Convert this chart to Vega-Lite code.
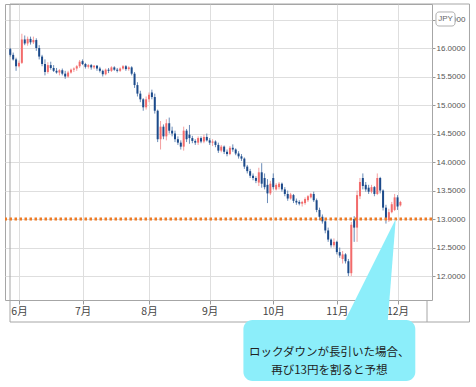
{
  "$schema": "https://vega.github.io/schema/vega-lite/v6.json",
  "width": 427,
  "height": 296,
  "padding": {"left": 3, "top": 3, "right": 2, "bottom": 6},
  "background": "white",
  "config": {
    "view": {"stroke": "#a6a6a6", "strokeWidth": 1},
    "axis": {"gridColor": "#dedede", "gridWidth": 1, "tickColor": "#9a9a9a", "domain": false, "labelColor": "#555555"}
  },
  "datasets": {
    "candles": [
      {"t": 0, "date": "2020-05-27", "o": 15.98, "h": 16.0, "l": 15.85, "c": 15.88},
      {"t": 1, "date": "2020-05-28", "o": 15.88, "h": 15.92, "l": 15.78, "c": 15.8},
      {"t": 2, "date": "2020-05-29", "o": 15.8, "h": 15.83, "l": 15.6, "c": 15.68},
      {"t": 3, "date": "2020-06-01", "o": 15.68, "h": 15.78, "l": 15.66, "c": 15.74},
      {"t": 4, "date": "2020-06-02", "o": 15.74, "h": 16.25, "l": 15.72, "c": 16.15},
      {"t": 5, "date": "2020-06-03", "o": 16.15, "h": 16.22, "l": 16.05, "c": 16.08},
      {"t": 6, "date": "2020-06-04", "o": 16.08, "h": 16.2, "l": 16.04, "c": 16.16},
      {"t": 7, "date": "2020-06-05", "o": 16.16, "h": 16.2, "l": 16.06, "c": 16.1},
      {"t": 8, "date": "2020-06-08", "o": 16.1, "h": 16.2, "l": 16.07, "c": 16.14},
      {"t": 9, "date": "2020-06-09", "o": 16.14, "h": 16.17, "l": 15.95, "c": 16.0},
      {"t": 10, "date": "2020-06-10", "o": 16.0, "h": 16.05, "l": 15.8, "c": 15.85},
      {"t": 11, "date": "2020-06-11", "o": 15.85, "h": 15.88, "l": 15.68, "c": 15.72},
      {"t": 12, "date": "2020-06-12", "o": 15.72, "h": 15.8, "l": 15.52, "c": 15.58},
      {"t": 13, "date": "2020-06-15", "o": 15.58, "h": 15.75, "l": 15.55, "c": 15.7},
      {"t": 14, "date": "2020-06-16", "o": 15.7, "h": 15.76, "l": 15.62, "c": 15.65},
      {"t": 15, "date": "2020-06-17", "o": 15.65, "h": 15.7, "l": 15.58, "c": 15.6},
      {"t": 16, "date": "2020-06-18", "o": 15.6, "h": 15.65, "l": 15.55, "c": 15.57},
      {"t": 17, "date": "2020-06-19", "o": 15.57, "h": 15.63, "l": 15.52, "c": 15.61},
      {"t": 18, "date": "2020-06-22", "o": 15.61, "h": 15.64, "l": 15.52, "c": 15.55},
      {"t": 19, "date": "2020-06-23", "o": 15.55, "h": 15.6, "l": 15.46, "c": 15.5},
      {"t": 20, "date": "2020-06-24", "o": 15.5, "h": 15.6, "l": 15.48, "c": 15.57},
      {"t": 21, "date": "2020-06-25", "o": 15.57, "h": 15.64, "l": 15.55, "c": 15.62},
      {"t": 22, "date": "2020-06-26", "o": 15.62, "h": 15.66, "l": 15.58, "c": 15.64},
      {"t": 23, "date": "2020-06-29", "o": 15.64, "h": 15.7, "l": 15.6, "c": 15.68},
      {"t": 24, "date": "2020-06-30", "o": 15.68, "h": 15.79, "l": 15.65, "c": 15.76},
      {"t": 25, "date": "2020-07-01", "o": 15.77, "h": 15.8, "l": 15.7, "c": 15.72},
      {"t": 26, "date": "2020-07-02", "o": 15.72, "h": 15.74, "l": 15.64, "c": 15.67},
      {"t": 27, "date": "2020-07-03", "o": 15.67, "h": 15.72, "l": 15.64, "c": 15.7},
      {"t": 28, "date": "2020-07-06", "o": 15.7, "h": 15.72, "l": 15.62, "c": 15.66},
      {"t": 29, "date": "2020-07-07", "o": 15.66, "h": 15.7, "l": 15.63, "c": 15.69},
      {"t": 30, "date": "2020-07-08", "o": 15.69, "h": 15.7, "l": 15.6, "c": 15.64},
      {"t": 31, "date": "2020-07-09", "o": 15.64, "h": 15.67, "l": 15.57, "c": 15.6},
      {"t": 32, "date": "2020-07-10", "o": 15.6, "h": 15.62, "l": 15.5, "c": 15.54},
      {"t": 33, "date": "2020-07-13", "o": 15.54, "h": 15.64, "l": 15.52, "c": 15.62},
      {"t": 34, "date": "2020-07-14", "o": 15.62, "h": 15.65, "l": 15.56, "c": 15.6},
      {"t": 35, "date": "2020-07-15", "o": 15.6, "h": 15.68, "l": 15.58, "c": 15.66},
      {"t": 36, "date": "2020-07-16", "o": 15.66, "h": 15.68, "l": 15.6, "c": 15.62},
      {"t": 37, "date": "2020-07-17", "o": 15.62, "h": 15.65, "l": 15.57, "c": 15.6},
      {"t": 38, "date": "2020-07-20", "o": 15.6, "h": 15.66, "l": 15.58, "c": 15.64},
      {"t": 39, "date": "2020-07-21", "o": 15.64, "h": 15.7, "l": 15.62, "c": 15.68},
      {"t": 40, "date": "2020-07-22", "o": 15.68, "h": 15.7, "l": 15.6, "c": 15.63},
      {"t": 41, "date": "2020-07-23", "o": 15.63, "h": 15.68, "l": 15.6, "c": 15.66},
      {"t": 42, "date": "2020-07-24", "o": 15.66, "h": 15.68, "l": 15.52, "c": 15.55},
      {"t": 43, "date": "2020-07-27", "o": 15.55, "h": 15.58, "l": 15.3, "c": 15.35},
      {"t": 44, "date": "2020-07-28", "o": 15.35, "h": 15.4, "l": 15.15, "c": 15.2},
      {"t": 45, "date": "2020-07-29", "o": 15.2, "h": 15.25, "l": 15.05, "c": 15.1},
      {"t": 46, "date": "2020-07-30", "o": 15.1, "h": 15.12, "l": 14.9, "c": 14.96},
      {"t": 47, "date": "2020-07-31", "o": 14.96, "h": 15.15, "l": 14.92, "c": 15.1},
      {"t": 48, "date": "2020-08-03", "o": 15.1, "h": 15.22, "l": 15.05, "c": 15.18},
      {"t": 49, "date": "2020-08-04", "o": 15.22, "h": 15.27, "l": 15.1, "c": 15.14},
      {"t": 50, "date": "2020-08-05", "o": 15.14, "h": 15.2, "l": 14.85, "c": 14.9},
      {"t": 51, "date": "2020-08-06", "o": 14.9, "h": 14.92, "l": 14.35, "c": 14.4},
      {"t": 52, "date": "2020-08-07", "o": 14.4, "h": 14.72, "l": 14.22, "c": 14.62},
      {"t": 53, "date": "2020-08-10", "o": 14.62, "h": 14.66, "l": 14.4, "c": 14.45},
      {"t": 54, "date": "2020-08-11", "o": 14.45, "h": 14.75, "l": 14.38, "c": 14.68},
      {"t": 55, "date": "2020-08-12", "o": 14.68, "h": 14.78, "l": 14.5, "c": 14.55},
      {"t": 56, "date": "2020-08-13", "o": 14.55, "h": 14.62, "l": 14.45, "c": 14.5},
      {"t": 57, "date": "2020-08-14", "o": 14.5, "h": 14.55, "l": 14.35, "c": 14.4},
      {"t": 58, "date": "2020-08-17", "o": 14.4, "h": 14.45, "l": 14.3, "c": 14.34},
      {"t": 59, "date": "2020-08-18", "o": 14.34, "h": 14.38, "l": 14.22, "c": 14.27},
      {"t": 60, "date": "2020-08-19", "o": 14.27, "h": 14.62, "l": 14.2, "c": 14.55},
      {"t": 61, "date": "2020-08-20", "o": 14.55, "h": 14.58, "l": 14.35, "c": 14.4},
      {"t": 62, "date": "2020-08-21", "o": 14.48, "h": 14.65, "l": 14.32, "c": 14.42},
      {"t": 63, "date": "2020-08-24", "o": 14.42, "h": 14.46, "l": 14.33, "c": 14.37},
      {"t": 64, "date": "2020-08-25", "o": 14.37, "h": 14.4, "l": 14.3, "c": 14.34},
      {"t": 65, "date": "2020-08-26", "o": 14.34, "h": 14.45, "l": 14.3, "c": 14.42},
      {"t": 66, "date": "2020-08-27", "o": 14.42, "h": 14.45, "l": 14.33, "c": 14.36},
      {"t": 67, "date": "2020-08-28", "o": 14.36, "h": 14.48, "l": 14.33, "c": 14.44},
      {"t": 68, "date": "2020-08-31", "o": 14.44, "h": 14.5, "l": 14.36, "c": 14.38},
      {"t": 69, "date": "2020-09-01", "o": 14.38, "h": 14.42, "l": 14.3, "c": 14.34},
      {"t": 70, "date": "2020-09-02", "o": 14.34, "h": 14.4, "l": 14.28, "c": 14.36},
      {"t": 71, "date": "2020-09-03", "o": 14.36, "h": 14.38, "l": 14.26, "c": 14.3},
      {"t": 72, "date": "2020-09-04", "o": 14.3, "h": 14.34, "l": 14.16, "c": 14.2},
      {"t": 73, "date": "2020-09-07", "o": 14.2, "h": 14.3, "l": 14.17, "c": 14.27},
      {"t": 74, "date": "2020-09-08", "o": 14.27, "h": 14.29, "l": 14.14, "c": 14.18},
      {"t": 75, "date": "2020-09-09", "o": 14.18, "h": 14.22, "l": 14.1, "c": 14.14},
      {"t": 76, "date": "2020-09-10", "o": 14.14, "h": 14.28, "l": 14.12, "c": 14.25},
      {"t": 77, "date": "2020-09-11", "o": 14.25, "h": 14.31, "l": 14.18, "c": 14.22},
      {"t": 78, "date": "2020-09-14", "o": 14.22, "h": 14.24, "l": 14.12, "c": 14.15},
      {"t": 79, "date": "2020-09-15", "o": 14.15, "h": 14.19, "l": 14.06, "c": 14.1},
      {"t": 80, "date": "2020-09-16", "o": 14.1, "h": 14.14, "l": 14.02, "c": 14.06},
      {"t": 81, "date": "2020-09-17", "o": 14.06, "h": 14.08, "l": 13.88, "c": 13.92},
      {"t": 82, "date": "2020-09-18", "o": 13.92, "h": 13.95, "l": 13.8, "c": 13.84},
      {"t": 83, "date": "2020-09-21", "o": 13.84, "h": 13.88, "l": 13.72, "c": 13.76},
      {"t": 84, "date": "2020-09-22", "o": 13.76, "h": 13.8, "l": 13.68, "c": 13.72},
      {"t": 85, "date": "2020-09-23", "o": 13.72, "h": 13.75, "l": 13.63, "c": 13.67},
      {"t": 86, "date": "2020-09-24", "o": 13.64, "h": 13.9, "l": 13.58, "c": 13.82},
      {"t": 87, "date": "2020-09-25", "o": 13.82, "h": 13.98, "l": 13.55, "c": 13.62},
      {"t": 88, "date": "2020-09-28", "o": 13.72, "h": 13.8, "l": 13.52, "c": 13.56},
      {"t": 89, "date": "2020-09-29", "o": 13.6, "h": 13.7, "l": 13.28, "c": 13.45},
      {"t": 90, "date": "2020-09-30", "o": 13.45, "h": 13.67, "l": 13.42, "c": 13.62},
      {"t": 91, "date": "2020-10-01", "o": 13.72, "h": 13.8, "l": 13.52, "c": 13.56},
      {"t": 92, "date": "2020-10-02", "o": 13.52, "h": 13.63, "l": 13.5, "c": 13.6},
      {"t": 93, "date": "2020-10-05", "o": 13.56, "h": 13.65, "l": 13.52, "c": 13.62},
      {"t": 94, "date": "2020-10-06", "o": 13.62, "h": 13.64, "l": 13.48, "c": 13.52},
      {"t": 95, "date": "2020-10-07", "o": 13.52, "h": 13.56, "l": 13.4, "c": 13.44},
      {"t": 96, "date": "2020-10-08", "o": 13.44, "h": 13.5, "l": 13.32, "c": 13.36},
      {"t": 97, "date": "2020-10-09", "o": 13.36, "h": 13.46, "l": 13.34, "c": 13.43},
      {"t": 98, "date": "2020-10-12", "o": 13.42, "h": 13.44, "l": 13.28, "c": 13.32},
      {"t": 99, "date": "2020-10-13", "o": 13.32, "h": 13.36, "l": 13.25, "c": 13.29},
      {"t": 100, "date": "2020-10-14", "o": 13.3, "h": 13.33, "l": 13.24, "c": 13.27},
      {"t": 101, "date": "2020-10-15", "o": 13.27, "h": 13.32, "l": 13.22, "c": 13.3},
      {"t": 102, "date": "2020-10-16", "o": 13.28, "h": 13.38, "l": 13.25, "c": 13.35},
      {"t": 103, "date": "2020-10-19", "o": 13.33, "h": 13.42, "l": 13.3, "c": 13.4},
      {"t": 104, "date": "2020-10-20", "o": 13.38, "h": 13.46, "l": 13.36, "c": 13.44},
      {"t": 105, "date": "2020-10-21", "o": 13.44, "h": 13.48, "l": 13.3, "c": 13.33},
      {"t": 106, "date": "2020-10-22", "o": 13.33, "h": 13.36, "l": 13.12, "c": 13.16},
      {"t": 107, "date": "2020-10-23", "o": 13.16, "h": 13.2, "l": 12.98, "c": 13.04},
      {"t": 108, "date": "2020-10-26", "o": 13.04, "h": 13.08, "l": 12.92, "c": 12.96},
      {"t": 109, "date": "2020-10-27", "o": 12.96, "h": 12.98, "l": 12.75, "c": 12.8},
      {"t": 110, "date": "2020-10-28", "o": 12.8, "h": 12.85, "l": 12.6, "c": 12.64},
      {"t": 111, "date": "2020-10-29", "o": 12.64, "h": 12.66, "l": 12.5, "c": 12.54},
      {"t": 112, "date": "2020-10-30", "o": 12.54, "h": 12.66, "l": 12.5, "c": 12.6},
      {"t": 113, "date": "2020-11-02", "o": 12.6, "h": 12.62, "l": 12.38, "c": 12.42},
      {"t": 114, "date": "2020-11-03", "o": 12.42, "h": 12.5, "l": 12.32, "c": 12.36},
      {"t": 115, "date": "2020-11-04", "o": 12.3, "h": 12.44, "l": 12.22, "c": 12.38},
      {"t": 116, "date": "2020-11-05", "o": 12.38, "h": 12.4, "l": 12.22, "c": 12.26},
      {"t": 117, "date": "2020-11-06", "o": 12.26, "h": 12.3, "l": 12.0, "c": 12.05},
      {"t": 118, "date": "2020-11-09", "o": 12.05, "h": 12.95, "l": 12.0, "c": 12.9},
      {"t": 119, "date": "2020-11-10", "o": 13.0, "h": 13.05, "l": 12.6, "c": 12.85},
      {"t": 120, "date": "2020-11-11", "o": 12.85, "h": 13.5, "l": 12.6, "c": 13.42},
      {"t": 121, "date": "2020-11-12", "o": 13.4, "h": 13.72, "l": 13.35, "c": 13.65},
      {"t": 122, "date": "2020-11-13", "o": 13.72, "h": 13.8, "l": 13.52, "c": 13.58},
      {"t": 123, "date": "2020-11-16", "o": 13.6, "h": 13.65, "l": 13.48, "c": 13.52},
      {"t": 124, "date": "2020-11-17", "o": 13.55, "h": 13.6, "l": 13.44, "c": 13.48},
      {"t": 125, "date": "2020-11-18", "o": 13.48, "h": 13.6, "l": 13.45, "c": 13.56},
      {"t": 126, "date": "2020-11-19", "o": 13.56, "h": 13.58, "l": 13.4, "c": 13.44},
      {"t": 127, "date": "2020-11-20", "o": 13.44, "h": 13.8, "l": 13.42, "c": 13.72},
      {"t": 128, "date": "2020-11-23", "o": 13.72, "h": 13.74, "l": 13.45, "c": 13.5},
      {"t": 129, "date": "2020-11-24", "o": 13.5, "h": 13.52, "l": 13.15, "c": 13.2},
      {"t": 130, "date": "2020-11-25", "o": 13.2, "h": 13.25, "l": 12.92, "c": 13.0},
      {"t": 131, "date": "2020-11-26", "o": 12.98, "h": 13.18, "l": 12.95, "c": 13.12},
      {"t": 132, "date": "2020-11-27", "o": 13.12, "h": 13.3, "l": 13.1, "c": 13.26},
      {"t": 133, "date": "2020-11-30", "o": 13.16, "h": 13.44, "l": 13.14, "c": 13.38},
      {"t": 134, "date": "2020-12-01", "o": 13.38, "h": 13.42, "l": 13.16, "c": 13.22},
      {"t": 135, "date": "2020-12-02", "o": 13.24, "h": 13.32, "l": 13.22, "c": 13.3}
    ]
  },
  "layer": [
    {
      "data": {"values": [{}]},
      "mark": {"type": "rect", "fill": "transparent", "stroke": "#a6a6a6", "strokeWidth": 1, "clip": false},
      "encoding": {
        "x": {
          "datum": -0.1, "type": "quantitative",
          "scale": {"domain": [-0.1, 144.2], "nice": false, "zero": false},
          "axis": {
            "title": null, "orient": "bottom",
            "values": [3, 25, 48, 69, 91, 113, 134], "tickCount": 30,
            "labelExpr": "datum.value == 3 ? '6月' : datum.value == 25 ? '7月' : datum.value == 48 ? '8月' : datum.value == 69 ? '9月' : datum.value == 91 ? '10月' : datum.value == 113 ? '11月' : '12月'",
            "grid": true, "tickSize": 4, "labelPadding": 2, "labelOverlap": false,
            "labelFont": "Noto Sans CJK JP", "labelFontSize": 10.5, "labelColor": "#444444"
          }
        },
        "x2": {"datum": 158.9},
        "y": {
          "datum": 16.772, "type": "quantitative",
          "scale": {"domain": [11.58, 16.772], "nice": false, "zero": false},
          "axis": {
            "title": null, "orient": "right",
            "values": [12, 12.5, 13, 13.5, 14, 14.5, 15, 15.5, 16, 16.5], "tickCount": 30,
            "format": ".4f", "grid": true, "tickSize": 3, "labelPadding": 1, "labelOverlap": false,
            "labelFont": "Liberation Sans", "labelFontSize": 8, "labelColor": "#555555"
          }
        },
        "y2": {"datum": 11.194}
      }
    },
    {
      "data": {"values": [{}]},
      "mark": {"type": "rule", "color": "#a6a6a6", "strokeWidth": 1, "clip": false},
      "encoding": {
        "x": {"datum": 144.2, "type": "quantitative"},
        "y": {"datum": 11.58, "type": "quantitative"},
        "y2": {"datum": 11.194}
      }
    },
    {
      "data": {"name": "candles"},
      "mark": {"type": "rule", "strokeWidth": 1, "opacity": 0.75},
      "encoding": {
        "x": {"field": "t", "type": "quantitative"},
        "y": {"field": "l", "type": "quantitative"},
        "y2": {"field": "h"},
        "color": {"condition": {"test": "datum.c >= datum.o", "value": "#f08080"}, "value": "#3a66a0"}
      }
    },
    {
      "data": {"name": "candles"},
      "mark": {"type": "bar", "size": 2},
      "encoding": {
        "x": {"field": "t", "type": "quantitative"},
        "y": {"field": "o", "type": "quantitative"},
        "y2": {"field": "c"},
        "color": {"condition": {"test": "datum.c >= datum.o", "value": "#f26b6b"}, "value": "#1c4a8a"}
      }
    },
    {
      "data": {"values": [{}]},
      "mark": {"type": "rule", "color": "#ee7a24", "strokeWidth": 3, "strokeDash": [2.5, 2.5]},
      "encoding": {"y": {"datum": 13.0, "type": "quantitative"}}
    },
    {
      "data": {"values": [{}]},
      "mark": {"type": "point", "shape": "M0,0 L-51,102 L-8,102 Z", "size": 4, "filled": true, "fill": "#8ceefa", "opacity": 1, "strokeWidth": 0, "clip": false},
      "encoding": {
        "x": {"datum": 133.39, "type": "quantitative"},
        "y": {"datum": 13.0, "type": "quantitative"}
      }
    },
    {
      "data": {"values": [{}]},
      "mark": {"type": "rect", "fill": "#8ceefa", "cornerRadius": 9, "clip": false},
      "encoding": {
        "x": {"datum": 80.67, "type": "quantitative"},
        "x2": {"datum": 140.15},
        "y": {"datum": 11.231, "type": "quantitative"},
        "y2": {"datum": 10.161}
      }
    },
    {
      "data": {"values": [{}]},
      "mark": {"type": "text", "text": ["ロックダウンが長引いた場合、", "再び13円を割ると予想"], "font": "Noto Sans CJK JP", "fontSize": 11.5, "lineHeight": 18.5, "color": "#222222", "align": "center", "baseline": "middle", "clip": false},
      "encoding": {
        "x": {"datum": 110.4, "type": "quantitative"},
        "y": {"datum": 10.652, "type": "quantitative"}
      }
    },
    {
      "data": {"values": [{}]},
      "mark": {"type": "rect", "fill": "white", "stroke": "#b0b0b0", "strokeWidth": 1, "cornerRadius": 3, "clip": false},
      "encoding": {
        "x": {"datum": 147.3, "type": "quantitative"},
        "x2": {"datum": 153.9},
        "y": {"datum": 16.632, "type": "quantitative"},
        "y2": {"datum": 16.386}
      }
    },
    {
      "data": {"values": [{}]},
      "mark": {"type": "text", "text": "JPY", "font": "Liberation Sans", "fontSize": 8, "color": "#666666", "align": "center", "baseline": "middle", "clip": false},
      "encoding": {
        "x": {"datum": 150.6, "type": "quantitative"},
        "y": {"datum": 16.509, "type": "quantitative"}
      }
    }
  ]
}
